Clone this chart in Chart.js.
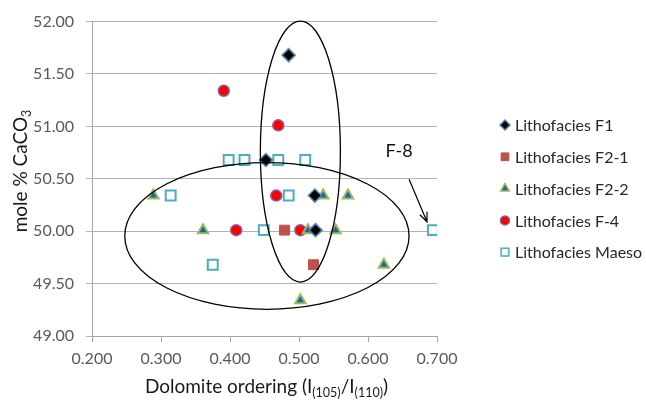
<!DOCTYPE html>
<html>
<head>
<meta charset="utf-8">
<title>Dolomite ordering vs mole % CaCO3</title>
<script src="https://cdn.jsdelivr.net/npm/chart.js@4.4.1/dist/chart.umd.min.js"></script>
<style>
  body { margin: 0; background: #fff; }
  canvas { display: block; }
</style>
</head>
<body>
<canvas id="grafica" width="646" height="401"></canvas>
<script>
// Datos (x = ordering, y = mole % CaCO3)
const f1X = [0.485, 0.452, 0.523, 0.524];
const f1Y = [51.68, 50.68, 50.34, 50.01];

const f21X = [0.479, 0.521];
const f21Y = [50.01, 49.68];

const f22X = [0.289, 0.361, 0.502, 0.535, 0.571, 0.513, 0.553, 0.623];
const f22Y = [50.34, 50.01, 49.34, 50.34, 50.34, 50.01, 50.01, 49.68];

const f4X = [0.391, 0.470, 0.467, 0.409, 0.502];
const f4Y = [51.34, 51.01, 50.34, 50.01, 50.01];

const maesoX = [0.398, 0.421, 0.470, 0.509, 0.314, 0.485, 0.449, 0.375, 0.694];
const maesoY = [50.68, 50.68, 50.68, 50.68, 50.34, 50.34, 50.01, 49.68, 50.01];

const nombresSeries = ['Lithofacies F1', 'Lithofacies F2-1', 'Lithofacies F2-2', 'Lithofacies F-4', 'Lithofacies Maeso'];

const xTicks = [0.2, 0.3, 0.4, 0.5, 0.6, 0.7];
const yTicks = [49, 49.5, 50, 50.5, 51, 51.5, 52];

// Elipses, flecha y etiqueta F-8 (en unidades de los ejes)
const elipses = [
  { cx: 0.502, cy: 50.76, rx: 0.058, ry: 1.245 },
  { cx: 0.4535, cy: 49.955, rx: 0.206, ry: 0.70 }
];
const flecha = { x1: 0.6595, y1: 50.495, x2: 0.6855, y2: 50.09 };
const etiquetaF8 = { x: 0.645, y: 50.76, texto: 'F-8' };

const puntos = (xs, ys) => xs.map((x, i) => ({ x: x, y: ys[i] }));

Chart.defaults.font.family = 'Lato, "Open Sans", sans-serif';

const plugAnotaciones = {
  id: 'anotaciones',
  afterDatasetsDraw(chart) {
    const ctx = chart.ctx;
    const sx = chart.scales.x, sy = chart.scales.y;
    ctx.save();
    ctx.strokeStyle = '#000';
    ctx.lineWidth = 1.3;
    elipses.forEach(e => {
      const cx = sx.getPixelForValue(e.cx);
      const cy = sy.getPixelForValue(e.cy);
      const rx = Math.abs(sx.getPixelForValue(e.cx + e.rx) - cx);
      const ry = Math.abs(sy.getPixelForValue(e.cy + e.ry) - cy);
      ctx.beginPath();
      ctx.ellipse(cx, cy, rx, ry, 0, 0, Math.PI * 2);
      ctx.stroke();
    });

    // flecha hacia F-8
    const x1 = sx.getPixelForValue(flecha.x1), y1 = sy.getPixelForValue(flecha.y1);
    const x2 = sx.getPixelForValue(flecha.x2), y2 = sy.getPixelForValue(flecha.y2);
    const ang = Math.atan2(y2 - y1, x2 - x1);
    ctx.lineWidth = 1.2;
    ctx.beginPath();
    ctx.moveTo(x1, y1);
    ctx.lineTo(x2, y2);
    ctx.moveTo(x2 - 10 * Math.cos(ang - 0.4), y2 - 10 * Math.sin(ang - 0.4));
    ctx.lineTo(x2, y2);
    ctx.lineTo(x2 - 10 * Math.cos(ang + 0.4), y2 - 10 * Math.sin(ang + 0.4));
    ctx.stroke();

    ctx.fillStyle = '#111';
    ctx.font = '18px Lato';
    ctx.textAlign = 'center';
    ctx.textBaseline = 'middle';
    ctx.fillText(etiquetaF8.texto, sx.getPixelForValue(etiquetaF8.x), sy.getPixelForValue(etiquetaF8.y));
    ctx.restore();
  }
};

// texto con subíndices: partes [texto, esSub]
function anchoPartes(ctx, partes) {
  let w = 0;
  partes.forEach(p => {
    ctx.font = p[1] ? '12.5px Lato' : '19px Lato';
    w += ctx.measureText(p[0]).width;
  });
  return w;
}
function dibujarPartes(ctx, partes, x, y) {
  partes.forEach(p => {
    ctx.font = p[1] ? '12.5px Lato' : '19px Lato';
    ctx.fillText(p[0], x, p[1] ? y + 4 : y);
    x += ctx.measureText(p[0]).width;
  });
}

const plugTitulosLeyenda = {
  id: 'titulosLeyenda',
  afterDraw(chart) {
    const ctx = chart.ctx;
    ctx.save();
    ctx.fillStyle = '#1a1a1a';
    ctx.textAlign = 'left';
    ctx.textBaseline = 'alphabetic';

    // titulo eje X
    const tx = [['Dolomite ordering (I', false], ['(105)', true], ['/I', false], ['(110)', true], [')', false]];
    const wx = anchoPartes(ctx, tx);
    const cxArea = (chart.chartArea.left + chart.chartArea.right) / 2;
    dibujarPartes(ctx, tx, cxArea - wx / 2 + 2, 393);

    // titulo eje Y
    const ty = [['mole % CaCO', false], ['3', true]];
    const wy = anchoPartes(ctx, ty);
    ctx.save();
    ctx.translate(20, 171);
    ctx.rotate(-Math.PI / 2);
    dibujarPartes(ctx, ty, -wy / 2, 7);
    ctx.restore();

    // leyenda
    const tamLeyenda = [5, 5.5, 5, 4.5, 5.5];
    chart.data.datasets.forEach((ds, i) => {
      const y = 125 + i * 31.8;
      ctx.fillStyle = ds.backgroundColor;
      ctx.strokeStyle = ds.borderColor;
      ctx.lineWidth = Math.min(ds.borderWidth, 1.5);
      Chart.helpers.drawPoint(ctx, { pointStyle: ds.pointStyle, radius: tamLeyenda[i], rotation: 0, borderWidth: ctx.lineWidth }, 505, y);
      ctx.fillStyle = '#262626';
      ctx.font = '16px Lato';
      ctx.textBaseline = 'middle';
      ctx.fillText(ds.label, 515, y + 1);
    });
    ctx.restore();
  }
};

new Chart(document.getElementById('grafica'), {
  type: 'scatter',
  data: {
    datasets: [
      {
        label: nombresSeries[0],
        data: puntos(f1X, f1Y),
        pointStyle: 'rectRot',
        pointRadius: 6.5,
        backgroundColor: '#000000',
        borderColor: '#4F81BD',
        borderWidth: 1.5
      },
      {
        label: nombresSeries[1],
        data: puntos(f21X, f21Y),
        pointStyle: 'rect',
        pointRadius: 7,
        backgroundColor: '#C0504D',
        borderColor: '#C0504D',
        borderWidth: 1
      },
      {
        label: nombresSeries[2],
        data: puntos(f22X, f22Y),
        pointStyle: 'triangle',
        pointRadius: 6,
        backgroundColor: '#1F5FAF',
        borderColor: '#9BBB59',
        borderWidth: 2
      },
      {
        label: nombresSeries[3],
        data: puntos(f4X, f4Y),
        pointStyle: 'circle',
        pointRadius: 5.5,
        backgroundColor: '#FF0000',
        borderColor: '#8064A2',
        borderWidth: 1.5
      },
      {
        label: nombresSeries[4],
        data: puntos(maesoX, maesoY),
        pointStyle: 'rect',
        pointRadius: 7,
        backgroundColor: '#FFFFFF',
        borderColor: '#4BACC6',
        borderWidth: 2
      }
    ]
  },
  options: {
    responsive: false,
    animation: false,
    layout: { padding: { top: 17, right: 209, left: 0, bottom: 0 } },
    plugins: {
      legend: { display: false },
      tooltip: { enabled: false }
    },
    scales: {
      x: {
        type: 'linear',
        min: xTicks[0],
        max: xTicks[xTicks.length - 1],
        afterFit: s => { s.height = 65; },
        afterBuildTicks: s => { s.ticks = xTicks.map(v => ({ value: v })); },
        ticks: {
          color: '#595959',
          font: { size: 16 },
          padding: 7,
          callback: v => Number(v).toFixed(3)
        },
        grid: { drawOnChartArea: false, drawTicks: true, tickLength: 6, color: '#A6A6A6' },
        border: { color: '#A6A6A6' }
      },
      y: {
        min: yTicks[0],
        max: yTicks[yTicks.length - 1],
        afterFit: s => { s.width = 92; },
        afterBuildTicks: s => { s.ticks = yTicks.map(v => ({ value: v })); },
        ticks: {
          color: '#595959',
          font: { size: 16 },
          padding: 12,
          callback: v => Number(v).toFixed(2)
        },
        grid: { color: '#B3B3B3', tickLength: 6 },
        border: { color: '#A6A6A6' }
      }
    }
  },
  plugins: [plugAnotaciones, plugTitulosLeyenda]
});
</script>
</body>
</html>
